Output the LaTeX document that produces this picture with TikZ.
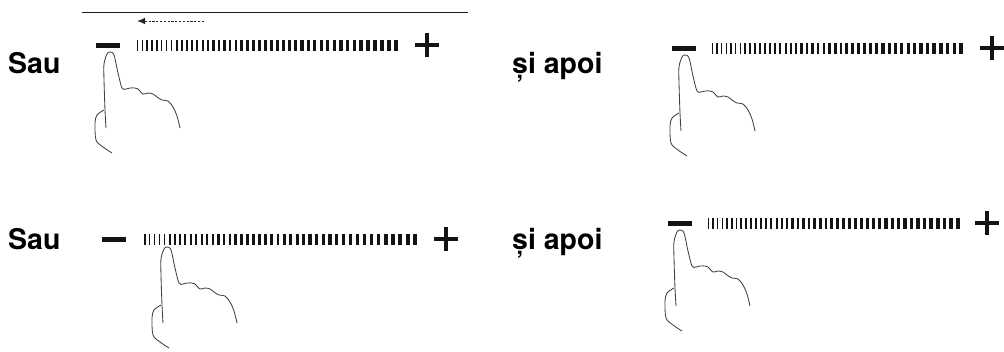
\documentclass[tikz,border=0pt]{standalone}
\usepackage{fontspec}
\setmainfont{TeX Gyre Heros}
\usetikzlibrary{arrows.meta,positioning}

\tikzset{
  hand/.pic={
    \draw[handline] plot[smooth,tension=0.55] coordinates {(-4,76) (-5,58) (-6,28) (-6,12) (-3,2) (0,0) (4,3) (8,21) (12,36) (16,37) (20,36) (25,36) (28,37) (33,42) (38,41) (43,42) (47,45) (52,48) (58,49) (63,55) (67,64) (70,76)};
    \draw[handline] plot[smooth,tension=0.5] coordinates {(-6,58) (-13,63) (-15,71) (-14,88) (-7,95) (2,101)};
  }
}

% minus left, bar start, bar end, plus centre, y
\newcommand\slider[5]{%
  \fill[ink] (#1,#5-2.5) rectangle ++(24,5);
  \pgfmathsetmacro\barlen{#3-#2}
  \foreach \i in {0,...,44}{
    \pgfmathsetmacro\tickx{#2+\i*0.01225*\barlen+\barlen*(0.0055*\i+0.0095*\i*(\i-1)/88)}
    \pgfmathsetmacro\tickw{\barlen*(0.0055+0.0095*\i/44)}
    \fill[ink] (\tickx,#5-5.5) rectangle ++(\tickw,11);
  }
  \fill[ink] (#4-12,#5-2.2) rectangle ++(24,4.4);
  \fill[ink] (#4-2.2,#5-12) rectangle ++(4.4,24);
}

\begin{document}
\begin{tikzpicture}[x=1pt,y=-1pt,>=Stealth]
    \tikzstyle{ink}=[black!92]
    \tikzstyle{handline}=[black!75,line width=0.85pt,line join=round]
    \tikzstyle{word}=[font=\bfseries\fontsize{28.5}{32}\selectfont,inner sep=0pt,anchor=base west]
    \useasboundingbox (0,0) rectangle (1004,351);

    \node[word] (sauTop) at (8,73) {Sau};
    \node[word] (apoiTop) at (512,73) {și apoi};
    \node[word] (sauBottom) at (8,249) {Sau};
    \node[word] (apoiBottom) at (512,249) {și apoi};

    \coordinate (ruleL) at (82,12);
    \coordinate (ruleR) at (468,12);
    \draw[black!90,line width=0.8pt] (ruleL) -- (ruleR);
    \coordinate (slideFrom) at (204,21);
    \coordinate (slideTo) at (137,21);
    \draw[black!85,line width=1pt,dash pattern=on 2.2pt off 1.6pt,-{Latex[length=8pt,width=6.5pt]}] (slideFrom) -- (slideTo);

    \slider{96}{137}{398}{427}{45}
    \slider{672}{712}{963}{992}{48}
    \slider{102}{144}{417}{446}{239}
    \slider{668}{708}{960}{987}{223}

    \pic at (110,52) {hand};
    \pic at (685,55) {hand};
    \pic at (167,247) {hand};
    \pic at (680,230) {hand};
  \end{tikzpicture}
\end{document}
